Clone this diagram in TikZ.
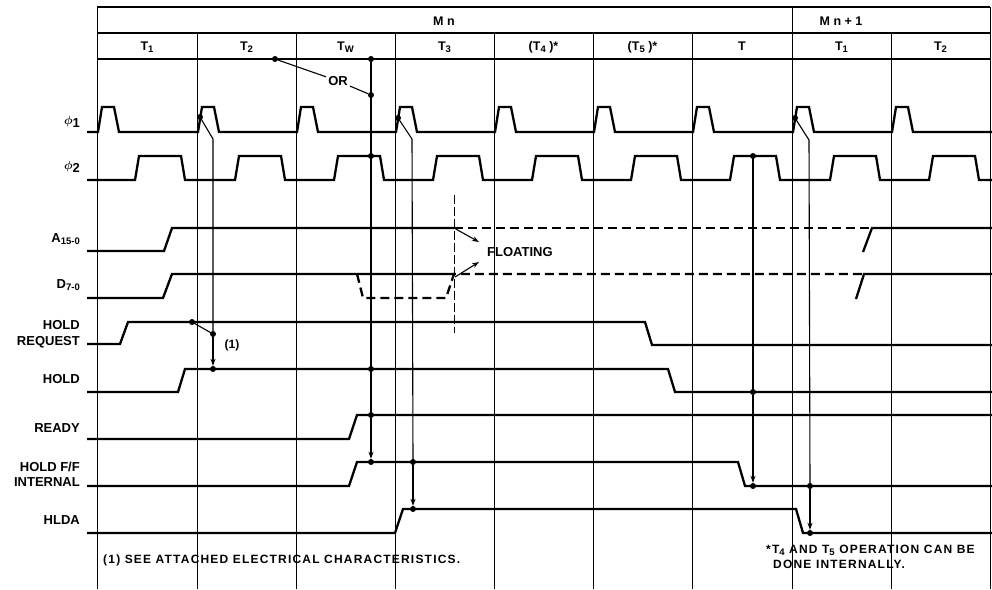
\documentclass[tikz,border=0pt]{standalone}
\usepackage{fontspec}
\setmainfont{Liberation Sans}
\newfontfamily\spc[LetterSpace=10]{Liberation Sans}
\usetikzlibrary{arrows.meta}
\newcommand\phisym[1]{\raisebox{2.5pt}{\fontsize{12}{12}\selectfont\boldmath$\phi$}#1}
\newcommand\sbs[1]{\raisebox{-2.5pt}{\fontsize{9.5}{10}\selectfont #1}}
\begin{document}
\begin{tikzpicture}[x=1pt,y=-1pt,
  sig/.style={line width=2.3pt},
  dsig/.style={line width=2.3pt, dash pattern=on 9pt off 5pt},
  gridl/.style={line width=0.8pt},
  hdr/.style={line width=1.3pt},
  mk/.style={line width=1.1pt},
  arr/.style={mk, -{Stealth[length=7pt,width=5pt]}},
  dt/.style={circle, fill, inner sep=0pt, minimum size=6pt},
  lbl/.style={anchor=base east, font=\fontsize{13}{15}\selectfont\bfseries, inner sep=0pt, align=right},
  hd/.style={anchor=base, font=\fontsize{12.5}{14}\selectfont\bfseries, inner sep=0pt},
  fn/.style={anchor=base west, font=\fontsize{12}{14}\selectfont\spc\bfseries, inner sep=0pt},
]
\useasboundingbox (0,0) rectangle (992,589);
% ---------- grid ----------
\draw[hdr] (97,7) -- (990,7);
\draw[hdr] (97,33) -- (990,33);
\draw[line width=2pt] (97,59) -- (990,59);
\foreach \x in {97,792,990} \draw[gridl] (\x,7) -- (\x,589);
\foreach \x in {197,296,395,494,593,692,891} \draw[gridl] (\x,33) -- (\x,589);
% ---------- header ----------
\node[hd] (mn) at (444,25) {M n};
\node[hd] (mn1) at (841,25) {M n + 1};
\node[hd] (c1) at (147,50) {T\sbs{1}};
\node[hd] (c2) at (246.5,50) {T\sbs{2}};
\node[hd] (c3) at (345.5,50) {T\sbs{W}};
\node[hd] (c4) at (444.5,50) {T\sbs{3}};
\node[hd] (c5) at (543.5,50) {(T\sbs{4} )*};
\node[hd] (c6) at (642.5,50) {(T\sbs{5} )*};
\node[hd] (c7) at (742,50) {T};
\node[hd] (c8) at (841.5,50) {T\sbs{1}};
\node[hd] (c9) at (940.5,50) {T\sbs{2}};
% ---------- labels ----------
\node[lbl] (l1) at (80,127) {\phisym{1}};
\node[lbl] (l2) at (80,172) {\phisym{2}};
\node[lbl] (l3) at (80,242) {A\sbs{15-0}};
\node[lbl] (l4) at (80,288) {D\sbs{7-0}};
\node[lbl] (l5) at (80,329) {HOLD};
\node[lbl] (l5b) at (80,345) {REQUEST};
\node[lbl] (l6) at (80,383) {HOLD};
\node[lbl] (l7) at (80,432) {READY};
\node[lbl] (l8) at (80,471) {HOLD F/F};
\node[lbl] (l8b) at (80,486) {INTERNAL};
\node[lbl] (l9) at (80,524) {HLDA};
% ---------- clocks ----------
\draw[sig] (87,132) \foreach \x in {97,197,296,395,494,593,692,792,891} {
  -- (\x+1,132) -- (\x+5,107) -- (\x+17,107) -- (\x+22,132) } -- (992,132);
\draw[sig] (87,180) \foreach \x in {97,197,296,395,494,593,692,792,891} {
  -- (\x+38,180) -- (\x+42,156) -- (\x+84,156) -- (\x+88,180) } -- (992,180);
% ---------- A and D ----------
\draw[sig] (87,251) -- (164,251) -- (172,228) -- (454,228);
\draw[dsig] (454,228) -- (871,228);
\draw[sig] (863,252) -- (872,228) -- (992,228);
\draw[sig] (87,298) -- (163,298) -- (172,274) -- (454,274);
\draw[dsig] (357,274) -- (363,298) -- (446,298) -- (454,274) -- (862,274);
\draw[sig] (856,299) -- (864,274) -- (992,274);
\draw[line width=0.9pt, dash pattern=on 9pt off 3pt] (454,195) -- (454,333);
\node[anchor=base west, font=\fontsize{13}{15}\selectfont\bfseries, inner sep=0pt] (fl) at (487,256) {FLOATING};
\coordinate (fa) at (454,228);
\coordinate (fd) at (455,277);
\draw[arr] (fa) -- (479,242);
\draw[arr] (fd) -- (479,262);
% ---------- other signals ----------
\draw[sig] (87,344) -- (120,344) -- (128,322) -- (645,322) -- (652,345) -- (992,345);
\draw[sig] (87,392) -- (178,392) -- (185,369) -- (668,369) -- (675,392) -- (992,392);
\draw[sig] (87,439) -- (349,439) -- (357,415) -- (992,415);
\draw[sig] (87,486) -- (349,486) -- (357,462) -- (738,462) -- (745,486) -- (992,486);
\draw[sig] (87,533) -- (395,533) -- (403,509) -- (796,509) -- (803,533) -- (992,533);
% ---------- markers ----------
% T2 phi1 -> hold request -> hold
\node[dt] (a1) at (200,117) {};
\coordinate (a1k) at (213,139);
\node[dt] (hr) at (192,322) {};
\node[dt] (hr2) at (213,334) {};
\node[dt] (h1) at (213,369) {};
\draw[mk] (a1.center) -- (a1k) -- (hr2.center);
\draw[mk] (hr.center) -- (hr2.center);
\draw[arr] (hr2) -- (h1);
\node[font=\fontsize{12}{14}\selectfont\bfseries, inner sep=0pt] (n1) at (232,345) {(1)};
% Tw : OR
\node[dt] (t0) at (275,59) {};
\node[font=\fontsize{13}{15}\selectfont\bfseries, inner sep=2pt] (or) at (338,81) {OR};
\node[dt] (t1) at (371,59) {};
\node[dt] (o1) at (371,95) {};
\node[dt] (p2a) at (371,156) {};
\node[dt] (h2) at (371,369) {};
\node[dt] (r1) at (371,415) {};
\node[dt] (f1) at (371,462) {};
\draw[mk] (t0) -- (or);
\draw[mk] (or) -- (o1);
\draw[mk] (t1.center) -- (r1.center);
\draw[arr] (r1) -- (f1);
% T3 phi1 -> hold f/f -> hlda
\node[dt] (a3) at (398,118) {};
\coordinate (a3k) at (412,139);
\node[dt] (f2) at (413,462) {};
\node[dt] (d1) at (413,509) {};
\draw[mk] (a3.center) -- (a3k) -- (f2.center);
\draw[arr] (f2) -- (d1);
% T phi2 -> hold -> hold f/f
\node[dt] (p2t) at (753,156) {};
\node[dt] (h3) at (753,392) {};
\node[dt] (f3) at (753,486) {};
\draw[mk] (p2t.center) -- (h3.center);
\draw[arr] (h3) -- (f3);
% Mn+1 T1 phi1 -> hold f/f -> hlda
\node[dt] (a4) at (795,118) {};
\coordinate (a4k) at (809,140);
\node[dt] (f4) at (810,486) {};
\node[dt] (d2) at (810,533) {};
\draw[mk] (a4.center) -- (a4k) -- (f4.center);
\draw[arr] (f4) -- (d2);
% ---------- footnotes ----------
\node[fn] (fn1) at (103,563) {(1) SEE ATTACHED ELECTRICAL CHARACTERISTICS.};
\node[fn] (fn2) at (766,553) {*T\sbs{4} AND T\sbs{5} OPERATION CAN BE};
\node[fn] (fn3) at (773,568) {DONE INTERNALLY.};
\end{tikzpicture}
\end{document}
